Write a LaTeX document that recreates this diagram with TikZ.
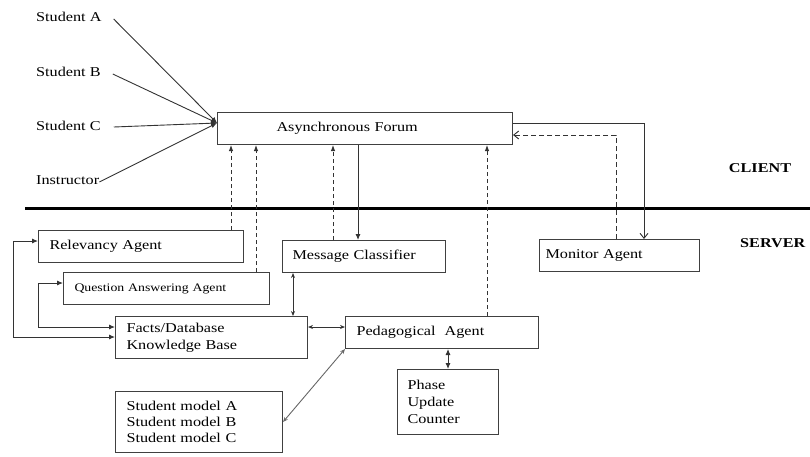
\documentclass[tikz,border=0pt]{standalone}
\usepackage{fontspec}
\setmainfont{Liberation Serif}[FakeStretch=1.2]
\usetikzlibrary{arrows.meta}
\begin{document}
\begin{tikzpicture}[x=1pt,y=-1pt,
  every node/.style={font=\fontsize{13.5}{17}\selectfont},
  box/.style={draw=black!75, line width=1pt, inner xsep=11pt, inner ysep=0pt, align=left, anchor=north west},
  lbl/.style={inner sep=0pt, anchor=west},
  ln/.style={line width=0.9pt, draw=black!80},
  darr/.style={ln, dashed, dash pattern=on 4pt off 3pt, -{Latex[length=6pt,width=4.5pt]}},
  sarr/.style={ln, -{Latex[length=6pt,width=5pt]}},
  oarr/.style={ln, -{Straight Barb[length=5pt,width=8pt]}},
  barr/.style={ln, {Latex[length=6pt,width=5pt]}-{Latex[length=6pt,width=5pt]}},
  sbarr/.style={ln, {Stealth[length=5pt,width=4pt]}-{Stealth[length=5pt,width=4pt]}}
]
\useasboundingbox (0,0) rectangle (810,456);

% labels on the left
\node[lbl] (sa) at (36,17) {Student A};
\node[lbl] (sb) at (36,72) {Student B};
\node[lbl] (sc) at (36,126) {Student C};
\node[lbl] (ins) at (36,180) {Instructor};

% boxes
\node[box, inner xsep=59pt, minimum width=295pt, minimum height=32pt, text width=177pt] (forum) at (217,112) {Asynchronous Forum};
\node[box, minimum width=205pt, minimum height=32pt, text width=183pt] (rel) at (38,230) {Relevancy Agent};
\node[box, minimum width=206pt, minimum height=32pt, text width=184pt, font=\fontsize{11.5}{14}\selectfont] (qa) at (63,272) {Question Answering Agent};
\node[box, minimum width=192pt, minimum height=42pt, text width=170pt] (facts) at (115,316) {Facts/Database\\Knowledge Base};
\node[box, inner xsep=10pt, minimum width=163pt, minimum height=32pt, text width=143pt] (mc) at (282,240) {Message Classifier};
\node[box, inner xsep=6pt, minimum width=160pt, minimum height=32pt, text width=148pt] (mon) at (539,239) {Monitor Agent};
\node[box, minimum width=193pt, minimum height=32pt, text width=171pt] (ped) at (345,316) {Pedagogical\ \ Agent};
\node[box, inner xsep=10pt, minimum width=101pt, minimum height=65pt, text width=81pt] (phase) at (397,369) {Phase\\Update\\Counter};
\node[box, minimum width=167pt, minimum height=61pt, text width=145pt, font=\fontsize{13.5}{16}\selectfont] (sm) at (115,391) {Student model A\\Student model B\\Student model C};

% client / server
\draw[line width=3pt] (25,208) -- (810,208);
\node[font=\bfseries\fontsize{13.5}{16}\selectfont] (client) at (760,168) {CLIENT};
\node[lbl, font=\bfseries\fontsize{13.5}{16}\selectfont] (server) at (740,243) {SERVER};

% students to forum
\coordinate (conv) at (217,123);
\draw[sarr] ([xshift=12pt,yshift=-2pt]sa.east) -- (conv);
\draw[sarr] ([xshift=12pt,yshift=-2pt]sb.east) -- (conv);
\draw[sarr] ([xshift=13pt,yshift=-1pt]sc.east) -- (conv);
\draw[sarr] ([yshift=-2pt]ins.east) -- (conv);

% dashed arrows up to forum
\coordinate (x1) at (231,0);
\coordinate (x2) at (256,0);
\coordinate (x3) at (333,0);
\coordinate (x4) at (487,0);
\coordinate (x5) at (358,0);
\draw[darr] (rel.north -| x1) -- (forum.south -| x1);
\draw[darr] (qa.north -| x2) -- (forum.south -| x2);
\draw[darr] (mc.north -| x3) -- (forum.south -| x3);
\draw[darr] (ped.north -| x4) -- (forum.south -| x4);
\draw[sarr] (forum.south -| x5) -- (mc.north -| x5);

% monitor
\coordinate (m1) at (644,123);
\coordinate (m2) at (616,135);
\draw[oarr] (forum.east |- m1) -- (m1) -- (mon.north -| m1);
\draw[oarr, dashed, dash pattern=on 5pt off 3pt] (mon.north -| m2) -- (m2) -- (forum.east |- m2);

% left loops
\coordinate (c1) at (13,241);
\coordinate (c2) at (13,337);
\coordinate (c3) at (38,283);
\coordinate (c4) at (38,327);
\draw[barr] (rel.west |- c1) -- (c1) -- (c2) -- (facts.west |- c2);
\draw[barr] (qa.west |- c3) -- (c3) -- (c4) -- (facts.west |- c4);

% other connectors
\coordinate (v1) at (293,0);
\coordinate (h1) at (0,327);
\coordinate (v2) at (448,0);
\draw[sbarr] (mc.south -| v1) -- (facts.north -| v1);
\draw[sbarr] (facts.east |- h1) -- (ped.west |- h1);
\draw[barr] (ped.south -| v2) -- (phase.north -| v2);
\draw[sbarr, draw=black!60] (ped.south west) -- (sm.east);
\end{tikzpicture}
\end{document}
